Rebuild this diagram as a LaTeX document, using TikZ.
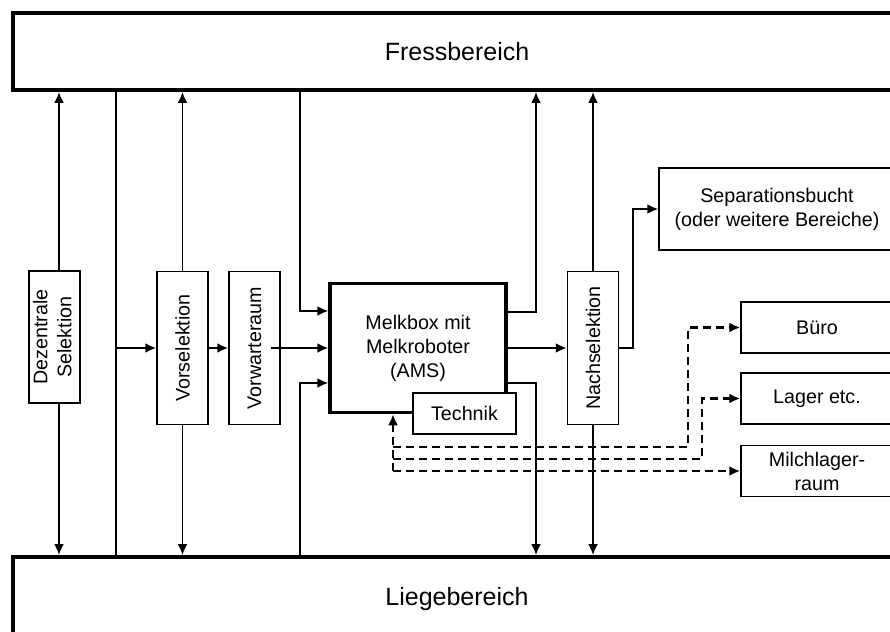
\documentclass[tikz,border=0pt]{standalone}
\usepackage{fontspec}
\setmainfont{Liberation Sans}
\usetikzlibrary{arrows.meta,calc}
\begin{document}
\begin{tikzpicture}[x=1pt,y=-1pt,
  box/.style={draw, line width=1.5pt, fill=white, inner sep=0pt, align=center,
    font=\fontsize{19.7}{24}\selectfont},
  area/.style={draw, line width=4pt, inner sep=0pt, font=\fontsize{25}{30}\selectfont},
  plain/.style={line width=1.8pt},
  arr/.style={line width=1.8pt, -{Latex[length=11pt,width=10pt]}},
  dasharr/.style={line width=2.3pt, dash pattern=on 8pt off 5pt, -{Latex[length=11pt,width=10pt]}},
]
\useasboundingbox (0,0) rectangle (890,631);
\path[clip] (0,0) rectangle (890,631);

% areas
\node[area, minimum width=888pt, minimum height=77pt] (fress) at (457,51.5) {Fressbereich};
\node[area, minimum width=888pt, minimum height=84pt] (liege) at (457,599) {Liegebereich};

% boxes
\node[box, minimum width=51pt, minimum height=132pt] (dez) at (54.5,337)
  {\rotatebox{90}{\begin{tabular}{@{}c@{}}Dezentrale\\Selektion\end{tabular}}};
\node[box, minimum width=51pt, minimum height=153pt] (vorsel) at (182.5,348) {\rotatebox{90}{Vorselektion}};
\node[box, minimum width=51pt, minimum height=153pt] (vorw) at (254.5,348) {\rotatebox{90}{Vorwarteraum}};
\node[box, line width=3.5pt, minimum width=176pt, minimum height=129pt] (melk) at (418,348)
  {Melkbox mit\\Melkroboter\\(AMS)};
\node[box, minimum width=103pt, minimum height=41pt] (tech) at (464.5,413.5) {Technik};
\node[box, minimum width=51pt, minimum height=153pt] (nach) at (593,348) {\rotatebox{90}{Nachselektion}};
\node[box, minimum width=236pt, minimum height=82pt] (sep) at (777,209)
  {Separationsbucht\\(oder weitere Bereiche)};
\node[box, minimum width=152pt, minimum height=51pt] (buero) at (817,327.5) {Büro};
\node[box, minimum width=152pt, minimum height=51pt] (lager) at (817,398.5) {Lager etc.};
\node[box, minimum width=152pt, minimum height=51pt] (milch) at (817,471) {Milchlager-\\raum};

% Dezentrale Selektion
\coordinate (dt) at ([xshift=4.5pt]dez.north);
\coordinate (db) at ([xshift=4.5pt]dez.south);
\draw[arr] (dt) -- (dt |- fress.south);
\draw[arr] (db) -- (db |- liege.north);

% bypass line
\coordinate (s1) at (116,348);
\draw[plain] (s1 |- fress.south) -- (s1 |- liege.north);
\draw[arr, line width=2.2pt] (s1) -- (vorsel.west);

% Vorselektion
\draw[arr] (vorsel.north) -- (vorsel.north |- fress.south);
\draw[arr] (vorsel.south) -- (vorsel.south |- liege.north);
\draw[arr, line width=2.2pt] (vorsel.east) -- (vorw.west);

% Vorwarteraum -> Melkbox
\coordinate (vw) at ([xshift=-10pt]vorw.east);
\draw[arr] (vw) -- (melk.west);

% into Melkbox
\coordinate (m1) at (300,311);
\draw[arr] (m1 |- fress.south) -- (m1) -- (m1 -| melk.west);
\coordinate (m2) at (300,383);
\draw[arr] (m2 |- liege.north) -- (m2) -- (m2 -| melk.west);

% out of Melkbox
\coordinate (m3) at (536,312);
\draw[arr] (m3 -| melk.east) -- (m3) -- (m3 |- fress.south);
\coordinate (m4) at (536,383);
\draw[arr] (m4 -| melk.east) -- (m4) -- (m4 |- liege.north);
\draw[arr, line width=2.2pt] (melk.east) -- (nach.west);

% Nachselektion
\draw[arr] (nach.north) -- (nach.north |- fress.south);
\draw[arr] (nach.south) -- (nach.south |- liege.north);
\coordinate (sp) at (633,348);
\draw[arr] (nach.east) -- (sp) -- (sp |- sep.west) -- (sep.west);

% Technik connections (dashed)
\coordinate (t0) at (393,471);
\draw[dasharr] (t0) -- (t0 |- melk.south);
\coordinate (b1) at (688,447);
\draw[dasharr] (b1 -| t0) -- (b1) -- (b1 |- buero.west) -- (buero.west);
\coordinate (b2) at (702,459);
\draw[dasharr] (b2 -| t0) -- (b2) -- (b2 |- lager.west) -- (lager.west);
\draw[dasharr] (t0) -- (t0 -| milch.west);
\end{tikzpicture}
\end{document}
